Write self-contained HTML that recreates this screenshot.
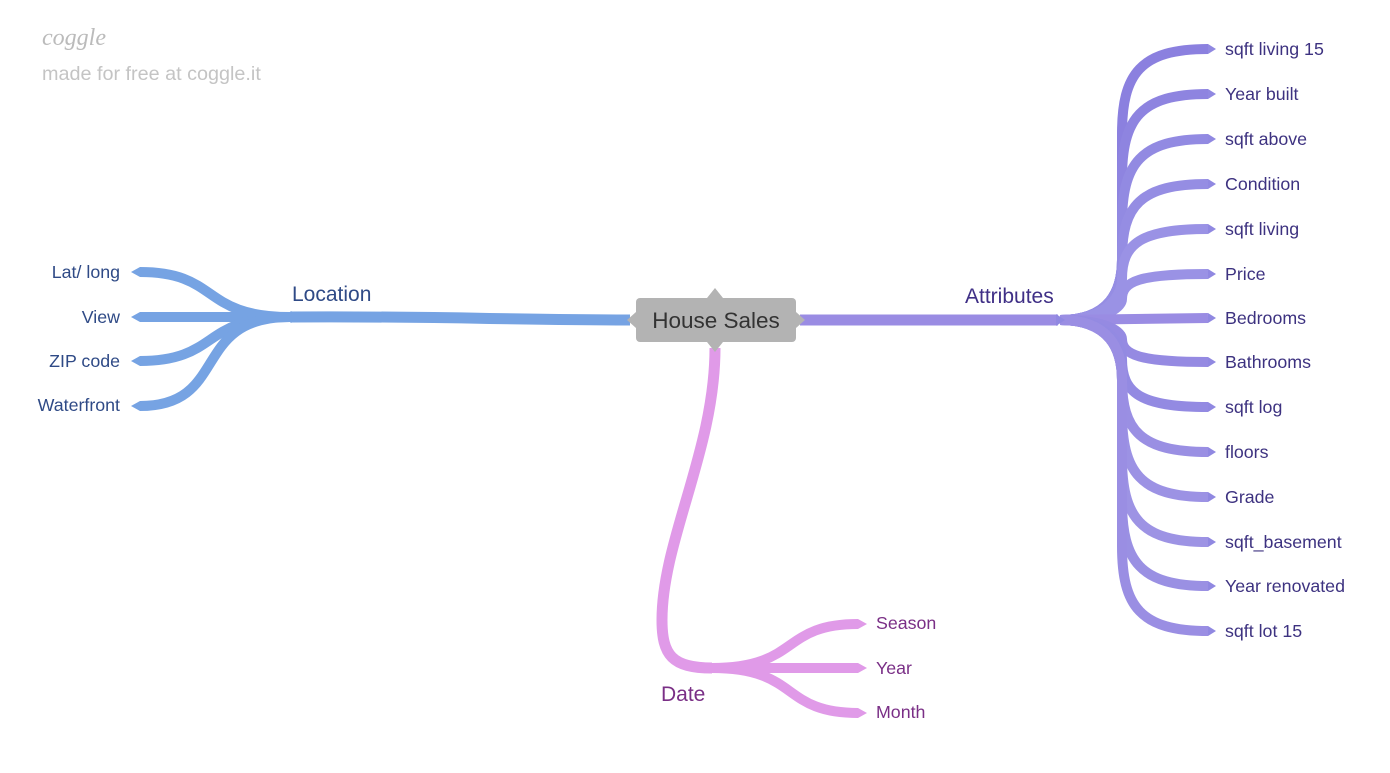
<!DOCTYPE html>
<html><head><meta charset="utf-8"><style>
html,body{margin:0;padding:0;background:#fff;}
svg{display:block;font-family:"Liberation Sans",sans-serif;}
</style></head><body>
<svg width="1390" height="773" viewBox="0 0 1390 773" xmlns="http://www.w3.org/2000/svg">
<text x="42" y="45" font-size="24" font-style="italic" fill="#bbb" font-family="Liberation Serif,serif">coggle</text>
<text x="42" y="80" font-size="19.8" fill="#c4c4c4">made for free at coggle.it</text>

<g fill="none" stroke-linecap="butt">
<path d="M630 320 C500 320 450 316 290 317" stroke="#76a3e3" stroke-width="11"/>
<g stroke="#76a3e3" stroke-width="10">
<path d="M290 317 C200 317 220 272 140 272"/>
<path d="M290 317 L140 317"/>
<path d="M290 317 C200 317 220 361 140 361"/>
<path d="M290 317 C190 317 230 406 140 406"/>
</g>
<path d="M800 320 L1058 320" stroke="#9a8ce3" stroke-width="11"/>
<g stroke-width="10">
<path d="M1060 320 C1110 320 1122 290 1122 260 L1122 134 C1122 74 1140 49 1208 49" stroke="#8b80df"/>
<path d="M1060 320 C1110 320 1122 290 1122 260 L1122 179 C1122 119 1140 94 1208 94" stroke="#8e84e0"/>
<path d="M1060 320 C1110 320 1122 290 1122 260 L1122 224 C1122 164 1140 139 1208 139" stroke="#928ae2"/>
<path d="M1060 320 C1110 320 1122 290 1122 260 L1122 259 C1122 206 1140 184 1208 184" stroke="#958de3"/>
<path d="M1060 320 C1110 320 1122 293 1122 279 C1122 244 1140 229 1208 229" stroke="#9a92e5"/>
<path d="M1060 320 C1110 320 1122 306 1122 299 C1122 281 1140 274 1208 274" stroke="#9a92e5"/>
<path d="M1060 320 L1208 318" stroke="#9a8ce3"/>
<path d="M1060 320 C1110 320 1122 333 1122 339 C1122 355 1140 362 1208 362" stroke="#958ae2"/>
<path d="M1060 320 C1110 320 1122 346 1122 359 C1122 393 1140 407 1208 407" stroke="#938ae2"/>
<path d="M1060 320 C1110 320 1122 350 1122 379 C1122 430 1140 452 1208 452" stroke="#9a8fe3"/>
<path d="M1060 320 C1110 320 1122 350 1122 380 L1122 412 C1122 472 1140 497 1208 497" stroke="#9c92e4"/>
<path d="M1060 320 C1110 320 1122 350 1122 380 L1122 457 C1122 517 1140 542 1208 542" stroke="#9d93e4"/>
<path d="M1060 320 C1110 320 1122 350 1122 380 L1122 501 C1122 561 1140 586 1208 586" stroke="#9a90e3"/>
<path d="M1060 320 C1110 320 1122 350 1122 380 L1122 546 C1122 606 1140 631 1208 631" stroke="#9a8ee3"/>
</g>
<path d="M715 348 C715 450 662 540 662 620 C662 655 672 668 712 668" stroke="#e09ae8" stroke-width="11"/>
<g stroke="#e09ae8" stroke-width="10">
<path d="M712 668 C800 668 780 624 858 624"/>
<path d="M712 668 L858 668"/>
<path d="M712 668 C800 668 780 713 858 713"/>
</g>
</g>

<g fill="#76a3e3">
<polygon points="140,267 140,277 131,272"/>
<polygon points="140,312 140,322 131,317"/>
<polygon points="140,356 140,366 131,361"/>
<polygon points="140,401 140,411 131,406"/>
<polygon points="292,311 292,323 283,317"/>
</g>
<g fill="#9088e1">
<polygon points="1208,44 1208,54 1216,49"/>
<polygon points="1208,89 1208,99 1216,94"/>
<polygon points="1208,134 1208,144 1216,139"/>
<polygon points="1208,179 1208,189 1216,184"/>
<polygon points="1208,224 1208,234 1216,229"/>
<polygon points="1208,269 1208,279 1216,274"/>
<polygon points="1208,313 1208,323 1216,318"/>
<polygon points="1208,357 1208,367 1216,362"/>
<polygon points="1208,402 1208,412 1216,407"/>
<polygon points="1208,447 1208,457 1216,452"/>
<polygon points="1208,492 1208,502 1216,497"/>
<polygon points="1208,537 1208,547 1216,542"/>
<polygon points="1208,581 1208,591 1216,586"/>
<polygon points="1208,626 1208,636 1216,631"/>
<polygon points="1056,314 1056,326 1065,320"/>
</g>
<g fill="#e09ae8">
<polygon points="858,619 858,629 867,624"/>
<polygon points="858,663 858,673 867,668"/>
<polygon points="858,708 858,718 867,713"/>
</g>

<rect x="636" y="298" width="160" height="44" rx="4" fill="#b3b3b3"/>
<polygon points="707,298 715,288 723,298" fill="#b3b3b3"/>
<polygon points="707,342 715,352 723,342" fill="#b3b3b3"/>
<polygon points="636,312 627,320 636,328" fill="#b3b3b3"/>
<polygon points="796,312 805,320 796,328" fill="#b3b3b3"/>
<text x="716" y="328" font-size="22.5" fill="#333" text-anchor="middle">House Sales</text>

<g font-size="21">
<text x="292" y="301" fill="#2f4a86">Location</text>
<text x="965" y="303" fill="#3f2f86">Attributes</text>
<text x="661" y="701" fill="#7a2f86">Date</text>
</g>
<g font-size="17.8" fill="#2f4a86" text-anchor="end">
<text x="120" y="278">Lat/ long</text>
<text x="120" y="323">View</text>
<text x="120" y="367">ZIP code</text>
<text x="120" y="411">Waterfront</text>
</g>
<g font-size="17.8" fill="#3d3280">
<text x="1225" y="55">sqft living 15</text>
<text x="1225" y="100">Year built</text>
<text x="1225" y="145">sqft above</text>
<text x="1225" y="190">Condition</text>
<text x="1225" y="235">sqft living</text>
<text x="1225" y="280">Price</text>
<text x="1225" y="324">Bedrooms</text>
<text x="1225" y="368">Bathrooms</text>
<text x="1225" y="413">sqft log</text>
<text x="1225" y="458">floors</text>
<text x="1225" y="503">Grade</text>
<text x="1225" y="548">sqft_basement</text>
<text x="1225" y="592">Year renovated</text>
<text x="1225" y="637">sqft lot 15</text>
</g>
<g font-size="17.8" fill="#7a2f86">
<text x="876" y="629">Season</text>
<text x="876" y="674">Year</text>
<text x="876" y="718">Month</text>
</g>
</svg>
</body></html>
